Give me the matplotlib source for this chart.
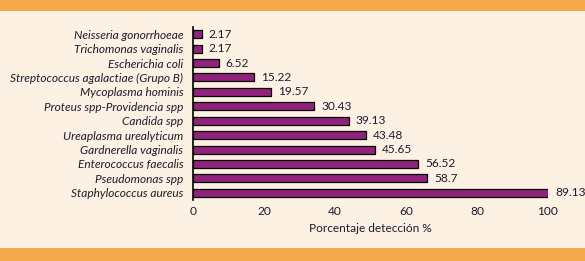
import matplotlib.pyplot as plt
from matplotlib.patches import Rectangle

# categories from top to bottom
organisms = ['Neisseria gonorrhoeae', 'Trichomonas vaginalis', 'Escherichia coli',
             'Streptococcus agalactiae (Grupo B)', 'Mycoplasma hominis',
             'Proteus spp-Providencia spp', 'Candida spp', 'Ureaplasma urealyticum',
             'Gardnerella vaginalis', 'Enterococcus faecalis', 'Pseudomonas spp',
             'Staphylococcus aureus']
# printed values
values = ['2.17', '2.17', '6.52', '15.22', '19.57', '30.43', '39.13', '43.48',
          '45.65', '56.52', '58.7', '89.13']
# bar lengths as drawn
bar_len = [2.4, 2.4, 7.3, 17.1, 22.0, 34.1, 43.9, 48.8, 51.2, 63.4, 65.9, 100]

bg = '#fdf1e4'
orange = '#f5a84a'
purple = '#92237c'
txt = '#1c1c2c'
fs = 8.6

fig = plt.figure(figsize=(5.85, 2.61), dpi=100)
fig.patch.set_facecolor(bg)
fig.patches.append(Rectangle((0, 1 - 10.5 / 261), 1, 10.5 / 261, transform=fig.transFigure,
                             facecolor=orange, edgecolor='none'))
fig.patches.append(Rectangle((0, 0), 1, 13 / 261, transform=fig.transFigure,
                             facecolor=orange, edgecolor='none'))

ax = fig.add_axes([193 / 585, 1 - 200 / 261, 355 / 585, 173 / 261])
ax.set_facecolor(bg)

n = len(organisms)
ypos = list(range(n - 1, -1, -1))
ax.barh(ypos, bar_len, height=0.55, color=purple, edgecolor='black', linewidth=0.9)

for y, l, v in zip(ypos, bar_len, values):
    ax.annotate(v, (l, y), xytext=(5, 0), textcoords='offset points',
                va='center', ha='left', fontsize=fs, color=txt, family='Lato')

ax.set_xlim(0, 100)
ax.set_ylim(-0.5, n - 0.5)
ax.set_yticks(ypos)
ax.set_yticklabels(organisms, fontsize=fs, style='italic', color=txt, family='Lato')
ax.set_xticks([0, 20, 40, 60, 80, 100])
ax.tick_params(axis='both', length=0, colors=txt, labelsize=fs)
ax.tick_params(axis='y', pad=7)
ax.tick_params(axis='x', pad=4)
for lbl in ax.get_xticklabels():
    lbl.set_family('Lato')
ax.set_xlabel('Porcentaje detección %', fontsize=fs, color=txt, family='Lato', labelpad=5)

for s in ['top', 'right', 'bottom']:
    ax.spines[s].set_visible(False)
ax.spines['left'].set_linewidth(1.2)
ax.spines['left'].set_color('black')

fig.savefig('out.png', dpi=100, facecolor=bg)
